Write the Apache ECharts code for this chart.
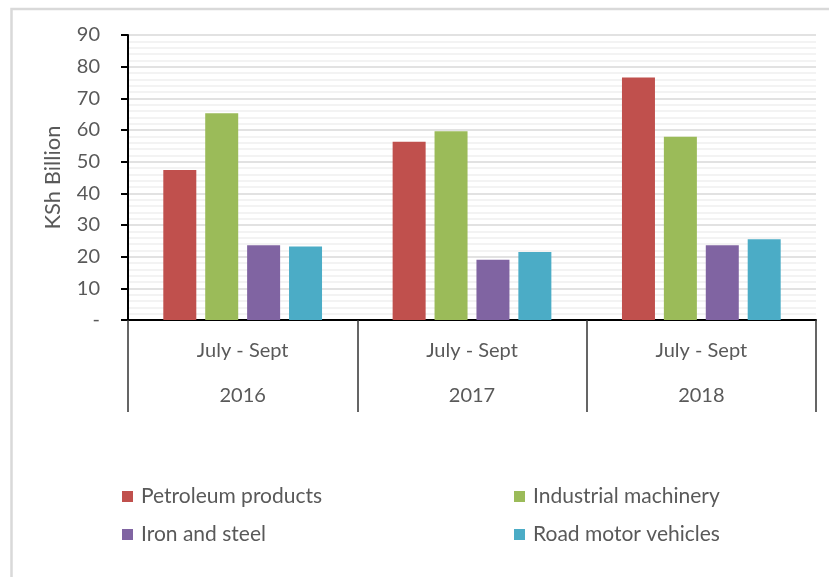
<!DOCTYPE html>
<html>
<head>
<meta charset="utf-8">
<script src="https://cdn.jsdelivr.net/npm/echarts@6/dist/echarts.min.js"></script>
<style>
  html, body { margin: 0; padding: 0; background: #fff; }
  #main { width: 829px; height: 577px; }
</style>
</head>
<body>
<div id="main"></div>
<script>
var periods = ['July - Sept', 'July - Sept', 'July - Sept'];
var years = ['2016', '2017', '2018'];
var petroleum = [47.4, 56.3, 76.6];   // Petroleum products
var machinery = [65.3, 59.6, 57.9];   // Industrial machinery
var ironSteel = [23.6, 19.0, 23.6];   // Iron and steel
var vehicles = [23.2, 21.5, 25.5];    // Road motor vehicles
var yTicks = [0, 10, 20, 30, 40, 50, 60, 70, 80, 90];

var font = 'Lato, "Open Sans", sans-serif';
var grey = '#595959';

var myChart = echarts.init(document.getElementById('main'));

function legendItem(name, left, top) {
  return {
    data: [name],
    left: left,
    top: top,
    itemWidth: 11,
    itemHeight: 11,
    icon: 'rect',
    textStyle: { color: grey, fontSize: 21, fontFamily: font, padding: [0, 0, 0, 3] }
  };
}

var option = {
  animation: false,
  graphic: [{
    type: 'rect',
    shape: { x: 11.5, y: 9, width: 840, height: 600 },
    style: { fill: 'none', stroke: '#d9d9d9', lineWidth: 2.5 }
  }],
  grid: { left: 128, right: 13, top: 35, bottom: 257 },
  legend: [
    legendItem('Petroleum products', 117, 481),
    legendItem('Industrial machinery', 509, 481),
    legendItem('Iron and steel', 117, 519),
    legendItem('Road motor vehicles', 509, 519)
  ],
  xAxis: {
    type: 'category',
    data: years,
    axisLine: { lineStyle: { color: '#000', width: 2 } },
    axisTick: { show: true, length: 92, lineStyle: { color: '#333', width: 1.5 } },
    axisLabel: {
      margin: 8,
      color: grey,
      fontSize: 20,
      fontFamily: font,
      lineHeight: 45,
      formatter: function (v, i) { return periods[i] + '\n' + v; }
    }
  },
  yAxis: {
    type: 'value',
    min: 0,
    max: 90,
    interval: 10,
    name: 'KSh Billion',
    nameLocation: 'middle',
    nameGap: 64,
    nameTextStyle: { color: grey, fontSize: 22, fontFamily: font },
    axisLine: { show: true, lineStyle: { color: '#000', width: 2 } },
    axisTick: { show: true, length: 7, lineStyle: { color: '#000', width: 2 } },
    axisLabel: {
      margin: 28,
      color: grey,
      fontSize: 20,
      fontFamily: font,
      formatter: function (v) { return yTicks.indexOf(v) === 0 ? '-' : v; }
    },
    splitLine: { lineStyle: { color: '#d9d9d9', width: 1.5 } },
    minorTick: { show: false, splitNumber: 5 },
    minorSplitLine: { show: true, lineStyle: { color: '#f0f0f0', width: 1.5 } }
  },
  series: [
    { name: 'Petroleum products', type: 'bar', data: petroleum, barWidth: 33, barGap: '27%', itemStyle: { color: '#C0504D' } },
    { name: 'Industrial machinery', type: 'bar', data: machinery, barWidth: 33, barGap: '27%', itemStyle: { color: '#9BBB59' } },
    { name: 'Iron and steel', type: 'bar', data: ironSteel, barWidth: 33, barGap: '27%', itemStyle: { color: '#8064A2' } },
    { name: 'Road motor vehicles', type: 'bar', data: vehicles, barWidth: 33, barGap: '27%', itemStyle: { color: '#4BACC6' } }
  ]
};
myChart.setOption(option);
</script>
</body>
</html>
